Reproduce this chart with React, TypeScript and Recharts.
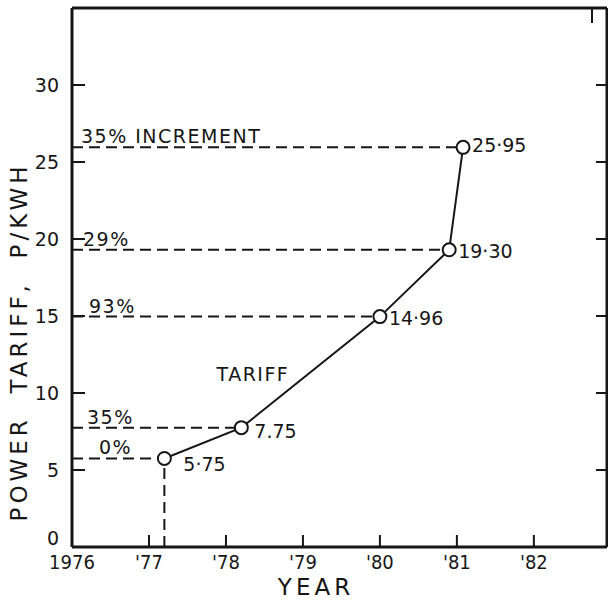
import { ComposedChart, Line, XAxis, YAxis, ReferenceLine, ReferenceDot, LabelList } from 'recharts';

const years = [1977.2, 1978.2, 1980.0, 1980.9, 1981.08];
const tariff = [5.75, 7.75, 14.96, 19.3, 25.95];
const valueLabels = ['5·75', '7.75', '14·96', '19·30', '25·95'];
const increments = ['0%', '35%', '93%', '29%', '35% INCREMENT'];

const yearTicks = [1976, 1977, 1978, 1979, 1980, 1981, 1982];
const yearTickLabels = ['1976', "'77", "'78", "'79", "'80", "'81", "'82"];
const tariffTicks = [0, 5, 10, 15, 20, 25, 30];

const data = years.map((year, i) => ({ year, tariff: tariff[i], label: valueLabels[i] }));

const FONT = "'DejaVu Sans', sans-serif";
const NARROW = "'Liberation Sans Narrow', 'DejaVu Sans Condensed', sans-serif";
const INK = '#161616';
const X_DOMAIN: [number, number] = [1976, 1982.95];

// horizontal offset of each percentage note from the y axis
const pctDx = [27, 15, 17, 11, 9];

// ticks point into the plot; tickSize/tickMargin are 0 so x/y is the axis line itself
function InTick(props: any) {
  const { x, y, payload, side, len, showText } = props;
  const v = payload?.value;
  if (side === 'bottom') {
    return (
      <g>
        <line x1={x} y1={y} x2={x} y2={y - len} stroke={INK} strokeWidth={2} />
        {showText && (
          <text x={x} y={y + 22} textAnchor="middle" fontFamily={NARROW} fontSize={20} fill={INK}>
            {yearTickLabels[yearTicks.indexOf(v)] ?? ''}
          </text>
        )}
      </g>
    );
  }
  if (side === 'top') {
    return <line x1={x} y1={y} x2={x} y2={y + len} stroke={INK} strokeWidth={2} />;
  }
  if (side === 'left') {
    return (
      <g>
        {v !== 0 && <line x1={x} y1={y} x2={x + len} y2={y} stroke={INK} strokeWidth={2} />}
        <text x={x - 13} y={v === 0 ? y - 9 : y} textAnchor="end" dominantBaseline="central"
          fontFamily={FONT} fontSize={19} fill={INK}>
          {v}
        </text>
      </g>
    );
  }
  return <line x1={x} y1={y} x2={x - len} y2={y} stroke={INK} strokeWidth={2} />;
}

function PctLabel(props: any) {
  const { viewBox, text, dx } = props;
  if (!viewBox) return null;
  return (
    <text x={viewBox.x + dx} y={viewBox.y - 4} fontFamily={FONT} fontSize={19} letterSpacing={1.5} fill={INK}>
      {text}
    </text>
  );
}

function PointLabel(props: any) {
  const x = props.x ?? props.viewBox?.x;
  const y = props.y ?? props.viewBox?.y;
  const i = props.index;
  const dx = i === 0 ? 19 : i === 1 ? 13 : 9;
  const dy = i === 0 ? 6 : i === 1 ? 3 : i === 4 ? -2 : 1;
  return (
    <text x={x + dx} y={y + dy} dominantBaseline="central" fontFamily={FONT} fontSize={19} fill={INK}>
      {props.value}
    </text>
  );
}

function YTitle() {
  return (
    <text x={19} y={342} transform="rotate(-90, 19, 342)" textAnchor="middle" dominantBaseline="central"
      fontFamily={FONT} fontSize={23} letterSpacing={4} fill={INK} style={{ whiteSpace: 'pre' }}>
      {'POWER  TARIFF,  P/KWH'}
    </text>
  );
}

function XTitle() {
  return (
    <text x={316} y={587} textAnchor="middle" dominantBaseline="central"
      fontFamily={FONT} fontSize={23} letterSpacing={4} fill={INK}>
      YEAR
    </text>
  );
}

export default function App() {
  const frame = { stroke: INK, strokeWidth: 3 };
  return (
    <div style={{ position: 'absolute', left: 0, top: 0, width: 608, height: 601, background: '#fff' }}>
      <ComposedChart width={608} height={601} data={data} margin={{ top: 7, right: 0, bottom: 0, left: 0 }}>
        <XAxis xAxisId="b" dataKey="year" type="number" domain={X_DOMAIN} allowDataOverflow ticks={yearTicks}
          height={54} tickSize={0} tickMargin={0} axisLine={frame} tickLine={false}
          tick={<InTick side="bottom" len={12} showText />} label={<XTitle />} />
        <XAxis xAxisId="t" orientation="top" type="number" domain={X_DOMAIN} allowDataOverflow
          ticks={yearTicks.slice(1)} height={1} tickSize={0} tickMargin={0}
          axisLine={frame} tickLine={false} tick={<InTick side="top" len={15} />} />
        <YAxis yAxisId="l" type="number" domain={[0, 35]} allowDataOverflow ticks={tariffTicks} width={72}
          tickSize={0} tickMargin={0} axisLine={frame} tickLine={false}
          tick={<InTick side="left" len={13} />} label={<YTitle />} />
        <YAxis yAxisId="r" orientation="right" type="number" domain={[0, 35]} allowDataOverflow
          ticks={tariffTicks.slice(1)} width={1} tickSize={0} tickMargin={0}
          axisLine={frame} tickLine={false} tick={<InTick side="right" len={11} />} />

        {tariff.map((v, i) => (
          <ReferenceLine key={i} xAxisId="b" yAxisId="l" ifOverflow="visible"
            segment={[{ x: X_DOMAIN[0], y: v }, { x: years[i], y: v }]}
            stroke={INK} strokeWidth={2} strokeDasharray="11 6"
            label={<PctLabel text={increments[i]} dx={pctDx[i]} />} />
        ))}
        <ReferenceLine xAxisId="b" yAxisId="l" ifOverflow="visible"
          segment={[{ x: years[0], y: 0 }, { x: years[0], y: tariff[0] }]}
          stroke={INK} strokeWidth={2} strokeDasharray="11 6" />

        <ReferenceDot xAxisId="b" yAxisId="l" x={1978.35} y={11.2} r={1} fill="none" stroke="none"
          label={{ value: 'TARIFF', position: 'center', fill: INK, fontFamily: FONT, fontSize: 19, letterSpacing: 1.5 }} />

        <Line xAxisId="b" yAxisId="l" dataKey="tariff" type="linear" stroke={INK} strokeWidth={2}
          dot={{ r: 6.5, fill: '#fff', stroke: INK, strokeWidth: 2 }} isAnimationActive={false}>
          <LabelList dataKey="label" content={<PointLabel />} />
        </Line>
      </ComposedChart>
    </div>
  );
}
